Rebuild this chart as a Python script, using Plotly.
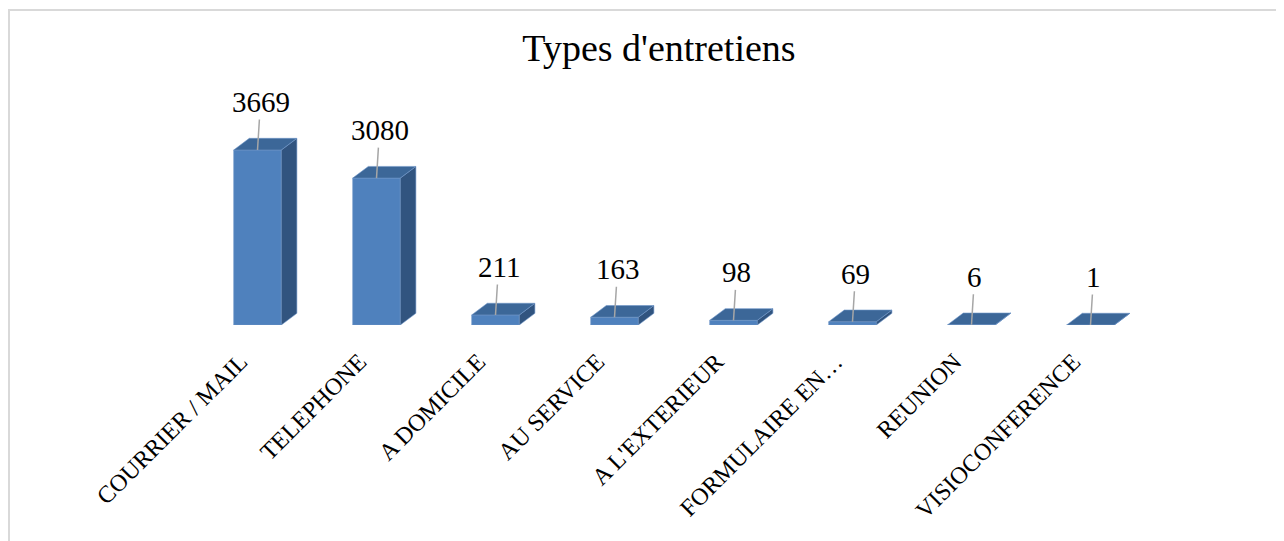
import plotly.graph_objects as go

categories = ["COURRIER / MAIL", "TELEPHONE", "A DOMICILE", "AU SERVICE",
              "A L'EXTERIEUR", "FORMULAIRE EN…", "REUNION", "VISIOCONFERENCE"]
values = [3669, 3080, 211, 163, 98, 69, 6, 1]

FONT = "Liberation Serif, Times New Roman, serif"
FRONT = "#4F81BD"
TOP = "#3C6798"
SIDE = "#31547F"
EDGE = "#6E96C8"

W, H = 1284, 541
ML, MR, MT, MB = 190, 142, 52, 224
YMAX = 5556
HALF = 0.2          # half bar width (category units)
DX = 0.131          # depth offset along x (category units)
DY = 245            # depth offset along y (value units)

xs = list(range(len(categories)))

fig = go.Figure()
fig.add_trace(go.Bar(x=xs, y=values, width=2 * HALF, marker_color=FRONT,
                     marker_line_color=EDGE, marker_line_width=0.6,
                     hoverinfo="skip", showlegend=False))

# side faces
sx, sy = [], []
for i, v in zip(xs, values):
    sx += [i + HALF, i + HALF + DX, i + HALF + DX, i + HALF, i + HALF, None]
    sy += [0, DY, v + DY, v, 0, None]
fig.add_trace(go.Scatter(x=sx, y=sy, fill="toself", fillcolor=SIDE, mode="lines",
                         line=dict(color=EDGE, width=0.6), hoverinfo="skip",
                         showlegend=False))
# top faces
tx, ty = [], []
for i, v in zip(xs, values):
    tx += [i - HALF, i + HALF, i + HALF + DX, i - HALF + DX, i - HALF, None]
    ty += [v, v, v + DY, v + DY, v, None]
fig.add_trace(go.Scatter(x=tx, y=ty, fill="toself", fillcolor=TOP, mode="lines",
                         line=dict(color=EDGE, width=0.6), hoverinfo="skip",
                         showlegend=False))

annotations = []
for i, v in zip(xs, values):
    annotations.append(dict(x=i, y=v, xref="x", yref="y", text=str(v),
                            showarrow=True, arrowhead=0, arrowwidth=1.5,
                            arrowcolor="#A6A6A6", ax=3, ay=-48, standoff=0,
                            font=dict(family=FONT, size=29, color="black")))

ph = H - MT - MB
pw = W - ML - MR
fig.add_shape(type="rect", xref="paper", yref="paper",
              x0=(1 - ML) / pw, x1=(W + 20 - ML) / pw,
              y0=(H - MB - (H + 20)) / ph, y1=(H - MB - 2) / ph,
              line=dict(color="#D9D9D9", width=2), fillcolor="rgba(0,0,0,0)",
              layer="below")

fig.update_layout(
    width=W, height=H,
    margin=dict(l=ML, r=MR, t=MT, b=MB, autoexpand=False),
    paper_bgcolor="white", plot_bgcolor="white",
    title=dict(text="Types d'entretiens", xref="container", yref="container",
               x=651 / W, y=1 - 40 / H, xanchor="center", yanchor="middle",
               font=dict(family=FONT, size=38, color="black")),
    xaxis=dict(range=[-0.5, 7.5], tickmode="array", tickvals=xs,
               ticktext=categories, tickangle=-45, showgrid=False,
               zeroline=False, showline=False, ticks="",
               tickfont=dict(family=FONT, size=24, color="black"),
               automargin=False, ticklabelstandoff=17, ticklabelshift=-17),
    yaxis=dict(range=[0, YMAX], visible=False, automargin=False),
    annotations=annotations,
    showlegend=False,
)

fig.write_html("out.html")
